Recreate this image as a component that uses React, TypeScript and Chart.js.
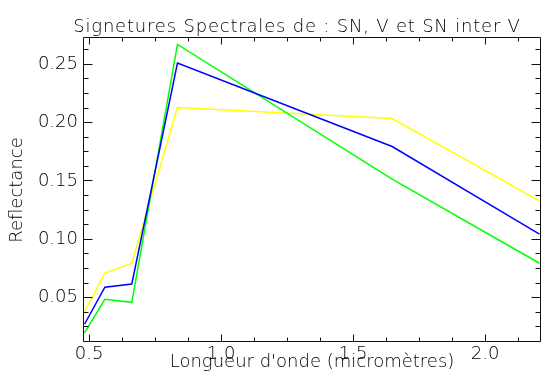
import React, { useEffect, useRef } from "react";
import { Chart, registerables } from "chart.js";

Chart.register(...registerables);

// Wavelengths (micrometres) of the band centres
const wavelengths = [0.483, 0.56, 0.662, 0.835, 1.648, 2.206];
// Spectral signatures
const snValues = [0.038, 0.071, 0.0795, 0.213, 0.2035, 0.133]; // yellow
const snInterVValues = [0.0272, 0.059, 0.0617, 0.251, 0.1795, 0.1045]; // blue
const vValues = [0.0198, 0.0486, 0.046, 0.267, 0.1515, 0.0795]; // green

const xMajorTicks = [0.5, 1.0, 1.5, 2.0];
const xMinorTicks = [0.625, 0.75, 0.875, 1.125, 1.25, 1.375, 1.625, 1.75, 1.875, 2.125];
const yMajorTicks = [0.05, 0.1, 0.15, 0.2, 0.25];
const yMinorTicks = [
  0.0125, 0.025, 0.0375, 0.0625, 0.075, 0.0875, 0.1125, 0.125, 0.1375,
  0.1625, 0.175, 0.1875, 0.2125, 0.225, 0.2375, 0.2625,
];

const titleText = "Signetures Spectrales de : SN, V et SN inter V";
const xTitle = "Longueur d'onde (micromètres)";
const yTitle = "Reflectance";
const FONT = "'DejaVu Sans', sans-serif";
const TEXT_COLOR = "#000000";
const FONT_WEIGHT = "200";

const framePlugin = {
  id: "idlFrame",
  afterDatasetsDraw(chart: any) {
    const { ctx, chartArea, scales } = chart;
    const xs = scales.x;
    const ys = scales.y;
    const L = Math.floor(chartArea.left) - 0.5;
    const R = Math.round(chartArea.right) + 0.5;
    const T = Math.floor(chartArea.top) - 0.5;
    const B = Math.round(chartArea.bottom) - 0.5;
    ctx.save();
    ctx.strokeStyle = "#111111";
    ctx.lineWidth = 1;
    ctx.beginPath();
    ctx.rect(L, T, R - L, B - T);
    ctx.stroke();
    const xt = (v: number, len: number) => {
      const px = Math.floor(xs.getPixelForValue(v)) + 0.5;
      ctx.moveTo(px, B);
      ctx.lineTo(px, B - len);
      ctx.moveTo(px, T);
      ctx.lineTo(px, T + len);
    };
    const yt = (v: number, len: number) => {
      const py = Math.floor(ys.getPixelForValue(v)) + 0.5;
      ctx.moveTo(L, py);
      ctx.lineTo(L + len, py);
      ctx.moveTo(R, py);
      ctx.lineTo(R - len, py);
    };
    ctx.beginPath();
    xMajorTicks.forEach((v) => xt(v, 7));
    xMinorTicks.forEach((v) => xt(v, 4));
    yMajorTicks.forEach((v) => yt(v, 9));
    yMinorTicks.forEach((v) => yt(v, 5));
    ctx.stroke();
    ctx.fillStyle = TEXT_COLOR;
    ctx.font = `${FONT_WEIGHT} 18px ${FONT}`;
    (ctx as any).letterSpacing = "0.8px";
    ctx.textAlign = "center";
    ctx.textBaseline = "alphabetic";
    ctx.fillText(titleText, 297, 31.5);
    ctx.restore();
  },
};

export default function App() {
  const canvasRef = useRef<HTMLCanvasElement | null>(null);

  useEffect(() => {
    const canvas = canvasRef.current;
    if (!canvas) return;
    const font = { family: FONT, size: 18, weight: FONT_WEIGHT as any };
    const chart = new Chart(canvas, {
      type: "line",
      data: {
        datasets: [
          {
            label: "SN inter V",
            data: wavelengths.map((x, i) => ({ x, y: snInterVValues[i] })),
            borderColor: "#0000ff",
            borderWidth: 1.5,
            pointRadius: 0,
            tension: 0,
            order: 0,
          },
          {
            label: "V",
            data: wavelengths.map((x, i) => ({ x, y: vValues[i] })),
            borderColor: "#00ff00",
            borderWidth: 1.5,
            pointRadius: 0,
            tension: 0,
            order: 1,
          },
          {
            label: "SN",
            data: wavelengths.map((x, i) => ({ x, y: snValues[i] })),
            borderColor: "#ffff00",
            borderWidth: 1.5,
            pointRadius: 0,
            tension: 0,
            order: 2,
          },
        ],
      },
      options: {
        responsive: false,
        animation: false,
        layout: { padding: { left: 0, right: 7, top: 38, bottom: 0 } },
        plugins: {
          legend: { display: false },
          title: { display: false },
          tooltip: { enabled: false },
        },
        scales: {
          x: {
            type: "linear",
            min: 0.481,
            max: 2.208,
            afterBuildTicks: (s: any) => {
              s.ticks = xMajorTicks.map((v) => ({ value: v }));
            },
            afterFit: (s: any) => {
              s.height = 36;
            },
            grid: { display: false, drawTicks: false, tickLength: 0 },
            border: { display: false },
            ticks: {
              autoSkip: false,
              maxRotation: 0,
              padding: 2,
              color: TEXT_COLOR,
              font,
              callback: (v: any) => Number(v).toFixed(1),
            },
            title: {
              display: true,
              text: xTitle,
              color: TEXT_COLOR,
              font,
              padding: { top: 0, bottom: 4.5 },
            },
          },
          y: {
            type: "linear",
            min: 0.012,
            max: 0.2725,
            afterBuildTicks: (s: any) => {
              s.ticks = yMajorTicks.map((v) => ({ value: v }));
            },
            afterFit: (s: any) => {
              s.width = 84;
            },
            grid: { display: false, drawTicks: false, tickLength: 0 },
            border: { display: false },
            ticks: {
              autoSkip: false,
              padding: 6,
              color: TEXT_COLOR,
              font,
              callback: (v: any) => Number(v).toFixed(2),
            },
            title: {
              display: true,
              text: yTitle,
              color: TEXT_COLOR,
              font,
              padding: { top: 7, bottom: 0 },
            },
          },
        },
      },
      plugins: [framePlugin],
    });
    return () => chart.destroy();
  }, []);

  return (
    <div style={{ position: "absolute", left: 0, top: 0, width: 547, height: 378, background: "#fff" }}>
      <canvas ref={canvasRef} width={547} height={378} style={{ display: "block" }} />
    </div>
  );
}
